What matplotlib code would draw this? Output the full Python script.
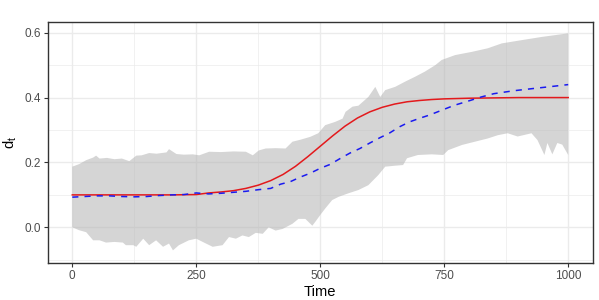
import matplotlib
matplotlib.use("Agg")
import matplotlib.pyplot as plt

# true parameter path (red)
true_x = [0, 100, 200, 250, 275, 300, 325, 350, 375, 400, 425, 450, 475, 500,
          525, 550, 575, 600, 625, 650, 675, 700, 725, 750, 775, 800, 850, 900, 1000]
true_y = [0.100, 0.100, 0.100, 0.101, 0.106, 0.109, 0.113, 0.120, 0.130, 0.144,
          0.163, 0.188, 0.218, 0.250, 0.282, 0.312, 0.337, 0.356, 0.370, 0.380,
          0.387, 0.391, 0.394, 0.396, 0.397, 0.398, 0.399, 0.400, 0.400]

# estimate (blue dashed)
est_x = [0, 25, 50, 75, 100, 125, 150, 175, 200, 225, 250, 275, 300, 325, 350,
         375, 400, 420, 440, 460, 480, 500, 520, 540, 560, 580, 600, 620, 640,
         660, 680, 700, 720, 745, 770, 800, 825, 850, 890, 930, 960, 1000]
est_y = [0.093, 0.095, 0.097, 0.097, 0.095, 0.094, 0.095, 0.098, 0.100, 0.101,
         0.106, 0.103, 0.105, 0.108, 0.111, 0.116, 0.120, 0.133, 0.141, 0.155,
         0.167, 0.182, 0.194, 0.212, 0.229, 0.243, 0.260, 0.276, 0.291, 0.310,
         0.325, 0.336, 0.346, 0.361, 0.376, 0.390, 0.402, 0.412, 0.421, 0.428,
         0.433, 0.440]

# band upper edge
up_x = [0, 14, 28, 42, 48, 55, 70, 85, 100, 115, 129, 140, 155, 170, 190, 195,
        210, 225, 243, 256, 276, 300, 325, 350, 364, 376, 390, 410, 430, 444,
        460, 480, 496, 510, 530, 545, 551, 565, 577, 597, 611, 621, 631, 651,
        671, 691, 711, 732, 745, 772, 806, 838, 866, 906, 947, 1000]
up_y = [0.187, 0.195, 0.207, 0.215, 0.221, 0.212, 0.214, 0.210, 0.212, 0.204,
        0.221, 0.222, 0.229, 0.227, 0.231, 0.241, 0.226, 0.224, 0.225, 0.222,
        0.233, 0.232, 0.234, 0.233, 0.222, 0.237, 0.243, 0.244, 0.243, 0.264,
        0.270, 0.279, 0.290, 0.315, 0.325, 0.335, 0.356, 0.372, 0.375, 0.402,
        0.433, 0.402, 0.423, 0.433, 0.449, 0.464, 0.480, 0.500, 0.516, 0.531,
        0.541, 0.552, 0.567, 0.577, 0.587, 0.598]

# band lower edge
lo_x = [0, 14, 28, 42, 55, 68, 85, 102, 108, 123, 129, 143, 155, 169, 183, 195,
        203, 215, 235, 250, 263, 283, 303, 316, 330, 343, 356, 370, 384, 396,
        410, 424, 444, 456, 470, 484, 490, 500, 510, 524, 537, 557, 577, 597,
        617, 631, 651, 667, 675, 697, 725, 748, 758, 786, 812, 838, 858, 878,
        898, 926, 938, 952, 958, 968, 978, 988, 1000]
lo_y = [0.000, -0.009, -0.015, -0.040, -0.040, -0.047, -0.045, -0.047, -0.055,
        -0.055, -0.060, -0.035, -0.055, -0.040, -0.060, -0.050, -0.071, -0.055,
        -0.040, -0.035, -0.045, -0.060, -0.055, -0.030, -0.035, -0.025, -0.030,
        -0.017, -0.020, 0.000, -0.010, -0.005, 0.011, 0.026, 0.026, 0.005,
        0.017, 0.038, 0.058, 0.084, 0.094, 0.105, 0.115, 0.130, 0.161, 0.187,
        0.190, 0.192, 0.213, 0.223, 0.225, 0.223, 0.238, 0.254, 0.264, 0.274,
        0.284, 0.290, 0.280, 0.290, 0.269, 0.223, 0.260, 0.225, 0.260, 0.255,
        0.223]

x_ticks = [0, 250, 500, 750, 1000]
y_ticks = [0.0, 0.2, 0.4, 0.6]

plt.rcParams['font.family'] = ['Liberation Sans', 'DejaVu Sans']
plt.rcParams['mathtext.fontset'] = 'custom'
plt.rcParams['mathtext.rm'] = 'Liberation Sans'

fig = plt.figure(figsize=(5.99, 3.0), dpi=100)
ax = fig.add_axes([0.0793, 0.1233, 0.9107, 0.8034])

# ribbon as polygon (upper left->right, lower right->left)
poly_x = up_x + lo_x[::-1]
poly_y = up_y + lo_y[::-1]
ax.fill(poly_x, poly_y, color='#B3B3B3', alpha=0.55, linewidth=0, zorder=2)

ax.plot(true_x, true_y, color='#E3191C', linewidth=1.1, zorder=3)
ax.plot(est_x, est_y, color='#1A1AF0', linewidth=1.1, linestyle=(0, (4, 4)), zorder=4)

ax.set_xlim(-50, 1050)
ax.set_ylim(-0.11, 0.633)
ax.set_xticks(x_ticks)
ax.set_xticklabels([str(t) for t in x_ticks])
ax.set_yticks(y_ticks)
ax.set_yticklabels(['%.1f' % t for t in y_ticks])
ax.set_xticks([125, 375, 625, 875], minor=True)
ax.set_yticks([-0.1, 0.1, 0.3, 0.5], minor=True)

ax.grid(which='major', color='#EBEBEB', linewidth=1.0, zorder=0)
ax.grid(which='minor', color='#EBEBEB', linewidth=0.5, zorder=0)
ax.set_axisbelow(True)

for s in ax.spines.values():
    s.set_color('#333333')
    s.set_linewidth(1.0)

ax.tick_params(which='major', length=3, width=0.8, color='#333333',
               labelsize=8.5, labelcolor='#4D4D4D', pad=2)
ax.tick_params(which='minor', length=0)

ax.set_xlabel('Time', fontsize=10.6, labelpad=2)
ax.set_ylabel(r'$\mathregular{d_t}$', fontsize=10.6, labelpad=4)

fig.savefig('out.png', dpi=100)
